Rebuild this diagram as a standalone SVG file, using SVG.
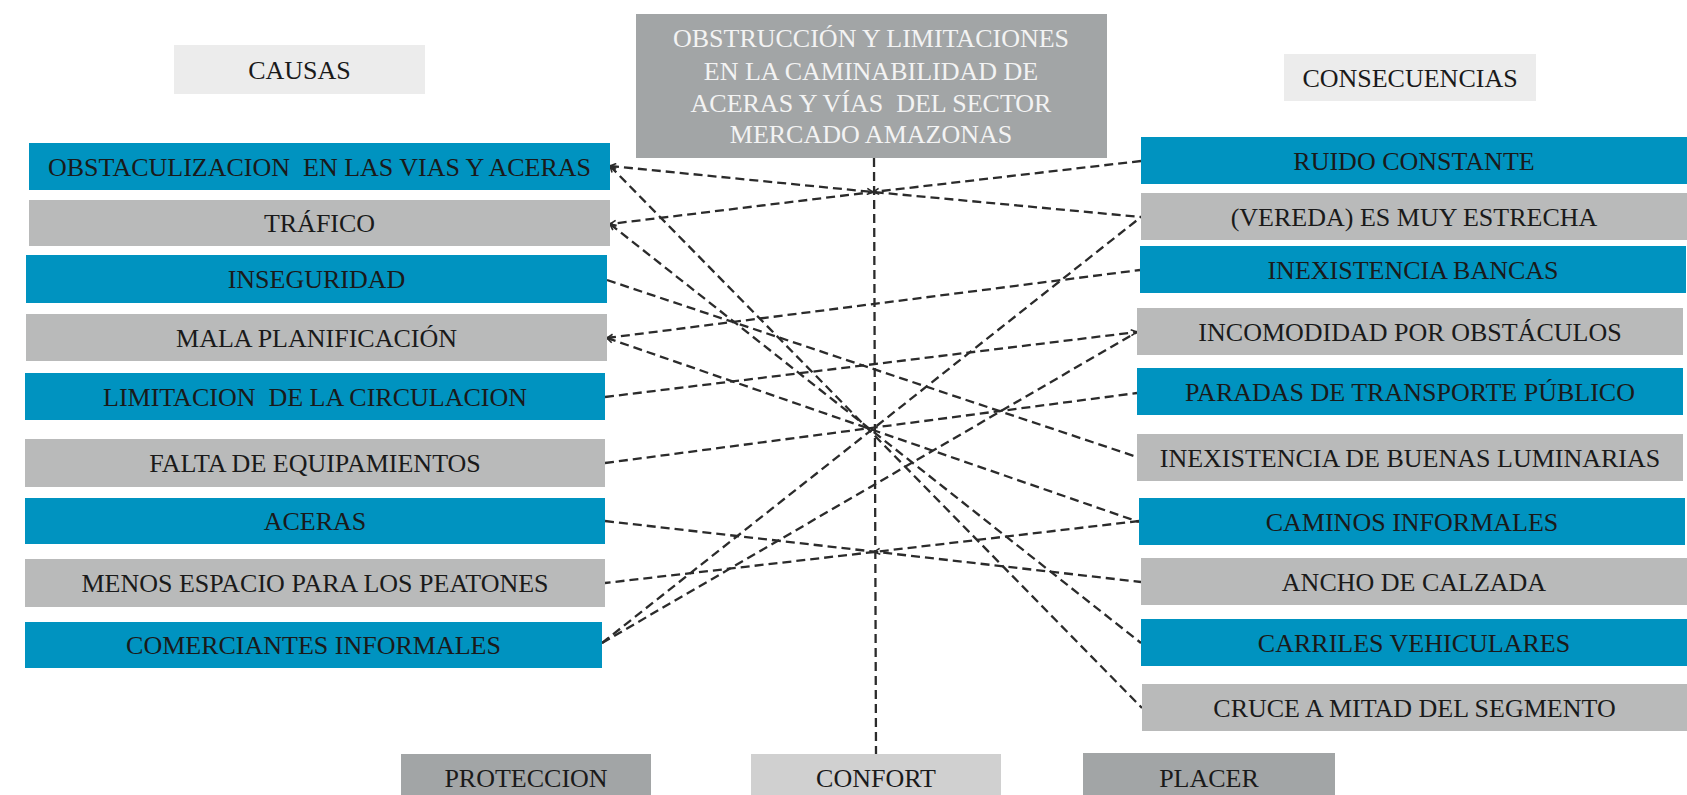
<svg xmlns="http://www.w3.org/2000/svg" width="1687" height="795" viewBox="0 0 1687 795">
  <style>
    .lbl { font-family: "Liberation Serif", "Times New Roman", serif; font-size: 26px; fill: #1a1a1a; text-anchor: middle; }
    .ttl { font-family: "Liberation Serif", "Times New Roman", serif; font-size: 26px; fill: #f3f3f3; text-anchor: middle; }
    .blue { fill: #0093c0; }
    .grey { fill: #b9baba; }
    .head { fill: #ececec; }
    .dark { fill: #a2a5a6; }
    .soft { fill: #d0d0d0; }
    .link { fill: none; stroke: #2b2b2b; stroke-width: 2.3; stroke-dasharray: 9 5; }
  </style>
  <defs>
    <marker id="tip" viewBox="0 0 8 8" refX="7" refY="4" markerWidth="8" markerHeight="8" markerUnits="userSpaceOnUse" orient="auto-start-reverse">
      <path d="M1,1 L7,4 L1,7" fill="none" stroke="#2b2b2b" stroke-width="1.6"/>
    </marker>
  </defs>
  <rect width="1687" height="795" fill="#fff"/>

  <!-- connectors -->
  <g id="connectors">
    <path class="link" d="M874,158 L876,754"/>
    <path class="link" marker-start="url(#tip)" marker-mid="url(#tip)" d="M610,166 L873,192 L1141,217"/>
    <path class="link" marker-start="url(#tip)" d="M610,166 L1142,708"/>
    <path class="link" marker-end="url(#tip)" marker-mid="url(#tip)" d="M1141,161 L873,192 L610,224"/>
    <path class="link" marker-start="url(#tip)" d="M610,224 L1141,643"/>
    <path class="link" d="M607,280 L1137,457"/>
    <path class="link" marker-start="url(#tip)" d="M607,338 L1140,270"/>
    <path class="link" marker-start="url(#tip)" d="M607,338 L1139,522"/>
    <path class="link" marker-end="url(#tip)" d="M605,397 L1137,332"/>
    <path class="link" d="M605,463 L1137,393"/>
    <path class="link" d="M605,521 L1141,582"/>
    <path class="link" marker-mid="url(#tip)" d="M1139,521 L874,552 L605,583"/>
    <path class="link" d="M602,643 L1141,217"/>
    <path class="link" d="M602,643 L1137,332"/>
  </g>

  <!-- central problem -->
  <g id="problema">
    <rect class="dark" x="636" y="14" width="471" height="144"/>
    <text class="ttl" x="871" y="47">OBSTRUCCIÓN Y LIMITACIONES</text>
    <text class="ttl" x="871" y="80">EN LA CAMINABILIDAD DE</text>
    <text class="ttl" x="871" y="112" xml:space="preserve">ACERAS Y VÍAS  DEL SECTOR</text>
    <text class="ttl" x="871" y="143">MERCADO AMAZONAS</text>
  </g>

  <!-- column headers -->
  <g id="causas"><rect class="head" x="174" y="45" width="251" height="49"/><text class="lbl" x="299.5" y="79">CAUSAS</text></g>
  <g id="consecuencias"><rect class="head" x="1284" y="54" width="252" height="47"/><text class="lbl" x="1410" y="87">CONSECUENCIAS</text></g>

  <!-- causes -->
  <g id="c-obstaculizacion"><rect class="blue" x="29" y="143" width="581" height="47"/><text class="lbl" x="319.5" y="176" xml:space="preserve">OBSTACULIZACION  EN LAS VIAS Y ACERAS</text></g>
  <g id="c-trafico"><rect class="grey" x="29" y="200" width="581" height="46"/><text class="lbl" x="319.5" y="232">TRÁFICO</text></g>
  <g id="c-inseguridad"><rect class="blue" x="26" y="255" width="581" height="48"/><text class="lbl" x="316.5" y="288">INSEGURIDAD</text></g>
  <g id="c-planificacion"><rect class="grey" x="26" y="314" width="581" height="47"/><text class="lbl" x="316.5" y="347">MALA PLANIFICACIÓN</text></g>
  <g id="c-limitacion"><rect class="blue" x="25" y="373" width="580" height="47"/><text class="lbl" x="315" y="406" xml:space="preserve">LIMITACION  DE LA CIRCULACION</text></g>
  <g id="c-equipamientos"><rect class="grey" x="25" y="439" width="580" height="48"/><text class="lbl" x="315" y="472">FALTA DE EQUIPAMIENTOS</text></g>
  <g id="c-aceras"><rect class="blue" x="25" y="498" width="580" height="46"/><text class="lbl" x="315" y="530">ACERAS</text></g>
  <g id="c-espacio"><rect class="grey" x="25" y="559" width="580" height="48"/><text class="lbl" x="315" y="592">MENOS ESPACIO PARA LOS PEATONES</text></g>
  <g id="c-comerciantes"><rect class="blue" x="25" y="622" width="577" height="46"/><text class="lbl" x="313.5" y="654">COMERCIANTES INFORMALES</text></g>

  <!-- consequences -->
  <g id="k-ruido"><rect class="blue" x="1141" y="137" width="546" height="47"/><text class="lbl" x="1414" y="170">RUIDO CONSTANTE</text></g>
  <g id="k-vereda"><rect class="grey" x="1141" y="193" width="546" height="47"/><text class="lbl" x="1414" y="226">(VEREDA) ES MUY ESTRECHA</text></g>
  <g id="k-bancas"><rect class="blue" x="1140" y="246" width="546" height="47"/><text class="lbl" x="1413" y="279">INEXISTENCIA BANCAS</text></g>
  <g id="k-incomodidad"><rect class="grey" x="1137" y="308" width="546" height="47"/><text class="lbl" x="1410" y="341">INCOMODIDAD POR OBSTÁCULOS</text></g>
  <g id="k-paradas"><rect class="blue" x="1137" y="368" width="546" height="47"/><text class="lbl" x="1410" y="401">PARADAS DE TRANSPORTE PÚBLICO</text></g>
  <g id="k-luminarias"><rect class="grey" x="1137" y="434" width="546" height="47"/><text class="lbl" x="1410" y="467">INEXISTENCIA DE BUENAS LUMINARIAS</text></g>
  <g id="k-caminos"><rect class="blue" x="1139" y="498" width="546" height="47"/><text class="lbl" x="1412" y="531">CAMINOS INFORMALES</text></g>
  <g id="k-calzada"><rect class="grey" x="1141" y="558" width="546" height="47"/><text class="lbl" x="1414" y="591">ANCHO DE CALZADA</text></g>
  <g id="k-carriles"><rect class="blue" x="1141" y="619" width="546" height="47"/><text class="lbl" x="1414" y="652">CARRILES VEHICULARES</text></g>
  <g id="k-cruce"><rect class="grey" x="1142" y="684" width="545" height="47"/><text class="lbl" x="1414.5" y="717">CRUCE A MITAD DEL SEGMENTO</text></g>

  <!-- values -->
  <g id="proteccion"><rect class="dark" x="401" y="754" width="250" height="41"/><text class="lbl" x="526" y="787">PROTECCION</text></g>
  <g id="confort"><rect class="soft" x="751" y="754" width="250" height="41"/><text class="lbl" x="876" y="787">CONFORT</text></g>
  <g id="placer"><rect class="dark" x="1083" y="753" width="252" height="42"/><text class="lbl" x="1209" y="787">PLACER</text></g>
</svg>
